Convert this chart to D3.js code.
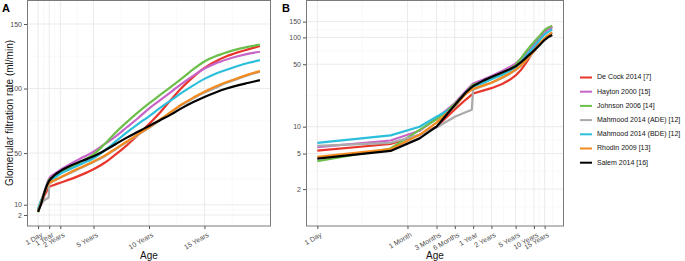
<!DOCTYPE html>
<html><head><meta charset="utf-8">
<script src="https://cdn.jsdelivr.net/npm/d3@7"></script>
<style>body{margin:0;background:#fff}svg{display:block}text{font-family:"Liberation Sans",Arial,sans-serif}</style>
</head><body><svg id="c" width="685" height="261"></svg>
<script>
// ages in years
const ages = [1/365, 16/365, 48/365, 0.25, 0.5, 0.75, 0.95, 1, 1.5, 2, 3, 4, 5, 6, 7, 8, 9, 10, 11, 12, 13, 14, 15, 16, 17, 18, 19, 20];
const seriesNames = ["De Cock 2014 [7]", "Hayton 2000 [15]", "Johnson 2006 [14]", "Mahmood 2014 (ADE) [12]", "Mahmood 2014 (BDE) [12]", "Rhodin 2009 [13]", "Salem 2014 [16]"];
const seriesColors = ["#e8362c", "#c864c8", "#6cbf4a", "#aaaaaa", "#2bbfdb", "#f28a1e", "#000000"];
const deCock   = [5.4, 6.4, 8.1, 10.0, 15.6, 20.0, 22.8, 23.5, 25.5, 27.0, 30.0, 33.5, 37.5, 42.5, 49.0, 56.0, 64.0, 72.5, 81.5, 91.5, 101, 109, 116, 121, 125, 128, 130.5, 133];
const hayton   = [5.9, 7.0, 9.0, 12.4, 18.4, 25.0, 29.5, 30.5, 34.0, 37.0, 42.0, 46.5, 51.0, 57.0, 63.0, 70.0, 77.0, 84.5, 91.0, 97.5, 104, 110, 115.5, 119.5, 122.5, 125, 127, 128.5];
const johnson  = [4.1, 5.7, 9.2, 12.1, 17.9, 24.0, 28.5, 29.5, 32.0, 34.5, 39.0, 44.0, 49.0, 57.0, 66.0, 74.0, 81.5, 88.5, 95.0, 101.5, 108, 115, 121, 125, 128, 130.5, 132.5, 134];
const mahmoodADE = [6.1, 6.6, 8.1, 9.8, 12.9, 14.5, 15.5, 26.0, 29.0, 31.0, 35.0, 39.0, 43.0, 47.5, 53.0, 58.5, 64.0, 69.5, 75.5, 81.5, 87.5, 92.5, 97, 100.5, 104.5, 107.5, 110.5, 113];
const mahmoodBDE = [6.6, 8.0, 10.0, 12.9, 16.7, 24.0, 27.2, 28.0, 31.0, 34.0, 38.0, 42.0, 46.0, 52.0, 59.0, 66.0, 72.5, 78.5, 85.0, 91.0, 97, 102.5, 107.5, 111.5, 114.5, 117.5, 120, 122];
const rhodin   = [4.6, 5.6, 8.1, 11.1, 17.0, 23.0, 26.0, 26.6, 29.0, 31.0, 35.5, 39.5, 43.5, 48.0, 53.5, 59.0, 64.5, 70.0, 76.0, 82.0, 88, 93, 97.5, 101.5, 105, 108, 111, 113.5];
const salem    = [4.4, 5.35, 7.4, 10.0, 17.5, 24.0, 27.8, 28.5, 33.0, 36.0, 40.5, 44.0, 47.5, 52.0, 57.0, 62.0, 66.5, 71.0, 75.5, 80.0, 85, 89.5, 93.5, 97, 100, 102.5, 104.5, 106.5];
const seriesValues = [deCock, hayton, johnson, mahmoodADE, mahmoodBDE, rhodin, salem];

const yTicksA = [2, 10, 50, 100, 150];
const xTicksA = [0, 1, 2, 5, 10, 15];
const xLabelsA = ["1 Day", "1 Year", "2 Years", "5 Years", "10 Years", "15 Years"];
const yTicksB = [2, 5, 10, 50, 100, 150];
const xTicksB = [1, 30.4, 91.3, 182.6, 365.25, 730.5, 1826.25, 3652.5, 5478.75]; // days
const xLabelsB = ["1 Day", "1 Month", "3 Months", "6 Months", "1 Year", "2 Years", "5 Years", "10 Years", "15 Years"];

const svg = d3.select("#c");
const tickCol = "#4d4d4d", gridMaj = "#ebebeb", gridMin = "#f5f5f5", border = "#7a7a7a";

function panel(opts){
  const {x, y, xt, xl, yt, xMinor, yMinor, xval, curve, left, right, label, lx, ly} = opts;
  const g = svg.append("g");
  g.selectAll(null).data(yMinor).join("line").attr("x1", left).attr("x2", right)
    .attr("y1", d=>y(d)).attr("y2", d=>y(d)).attr("stroke", gridMin).attr("stroke-width", 0.6);
  g.selectAll(null).data(xMinor).join("line").attr("y1", 0).attr("y2", 226)
    .attr("x1", d=>x(d)).attr("x2", d=>x(d)).attr("stroke", gridMin).attr("stroke-width", 0.6);
  g.selectAll(null).data(yt).join("line").attr("x1", left).attr("x2", right)
    .attr("y1", d=>y(d)).attr("y2", d=>y(d)).attr("stroke", gridMaj).attr("stroke-width", 1);
  g.selectAll(null).data(xt).join("line").attr("y1", 0).attr("y2", 226)
    .attr("x1", d=>x(d)).attr("x2", d=>x(d)).attr("stroke", gridMaj).attr("stroke-width", 1);
  const clip = "clip" + label;
  svg.append("clipPath").attr("id", clip).append("rect").attr("x", left).attr("y", 0).attr("width", right-left).attr("height", 226);
  const lg = g.append("g").attr("clip-path", `url(#${clip})`);
  seriesValues.forEach((vals, i) => {
    const line = d3.line().x((d, j) => x(xval(ages[j]))).y(d => y(d)).curve(curve);
    lg.append("path").attr("d", line(vals)).attr("fill", "none")
      .attr("stroke", seriesColors[i]).attr("stroke-width", 2.2).attr("stroke-linejoin", "round");
  });
  g.append("rect").attr("x", left+0.5).attr("y", 0.5).attr("width", right-left-1).attr("height", 225.5)
    .attr("fill", "none").attr("stroke", border).attr("stroke-width", 1);
  const ya = d3.axisLeft(y).tickValues(yt).tickSize(3).tickPadding(2).tickFormat(d3.format("d"));
  const yg = g.append("g").attr("transform", `translate(${left},0)`).call(ya);
  yg.select(".domain").remove();
  yg.selectAll("line").attr("stroke", "#555");
  yg.selectAll("text").attr("fill", tickCol).style("font-size", "7px").style("font-family", "Liberation Sans, Arial, sans-serif");
  const xa = d3.axisBottom(x).tickValues(xt).tickSize(3).tickFormat((d, i) => xl[i]);
  const xg = g.append("g").attr("transform", `translate(0,226)`).call(xa);
  xg.select(".domain").remove();
  xg.selectAll("line").attr("stroke", "#555");
  xg.selectAll("text").attr("fill", tickCol).style("font-size", "7px")
    .style("font-family", "Liberation Sans, Arial, sans-serif")
    .attr("text-anchor", "end").attr("dy", null).attr("y", 0)
    .attr("transform", "translate(2,6) rotate(-30)").attr("dominant-baseline", "hanging");
  svg.append("text").attr("x", lx).attr("y", ly).text(label).style("font-weight", "bold").style("font-size", "11px");
  svg.append("text").attr("x", (left+right)/2).attr("y", 256).attr("text-anchor", "middle")
    .attr("dominant-baseline", "middle").style("font-size", "10px").attr("fill", "#111").text("Age");
}

// Panel A
const xA = d3.scaleLinear().domain([-1, 21]).range([27, 271]);
const yA = d3.scaleLinear().domain([-6.5, 168.6]).range([226, 0]);
panel({x: xA, y: yA, xt: xTicksA, xl: xLabelsA, yt: yTicksA,
  xMinor: [0.5, 1.5, 3.5, 7.5, 12.5, 17.5], yMinor: [6, 30, 75, 125],
  xval: a => a, curve: d3.curveMonotoneX, left: 27, right: 271, label: "A", lx: 2, ly: 12});

// Panel B
const xB = d3.scaleLog().domain([Math.pow(10, -0.186), Math.pow(10, 4.057)]).range([306, 564]);
const yB = d3.scaleLog().domain([0.773, 262]).range([226, 0]);
const gm = (a, b) => Math.sqrt(a*b);
const xMinB = d3.range(xTicksB.length-1).map(i => gm(xTicksB[i], xTicksB[i+1])).concat([gm(5478.75, 10000)]);
const yMinB = [1.26, gm(2,5), gm(5,10), gm(10,50), gm(50,100), gm(100,150), 220];
panel({x: xB, y: yB, xt: xTicksB, xl: xLabelsB, yt: yTicksB,
  xMinor: xMinB, yMinor: yMinB,
  xval: a => a*365.25, curve: d3.curveLinear, left: 306, right: 564, label: "B", lx: 282, ly: 12});

svg.append("text").attr("transform", "translate(10,113) rotate(-90)").attr("text-anchor", "middle")
  .attr("dominant-baseline", "middle").style("font-size", "10px").attr("fill", "#111")
  .text("Glomerular filtration rate (ml/min)");

const leg = svg.append("g");
seriesNames.forEach((n, i) => {
  const yy = 77.5 + i*14.2;
  leg.append("line").attr("x1", 580).attr("x2", 592).attr("y1", yy).attr("y2", yy)
    .attr("stroke", seriesColors[i]).attr("stroke-width", 2);
  leg.append("text").attr("x", 597).attr("y", yy).attr("dominant-baseline", "middle")
    .style("font-size", "7px").attr("fill", "#111").text(n);
});
</script></body></html>
